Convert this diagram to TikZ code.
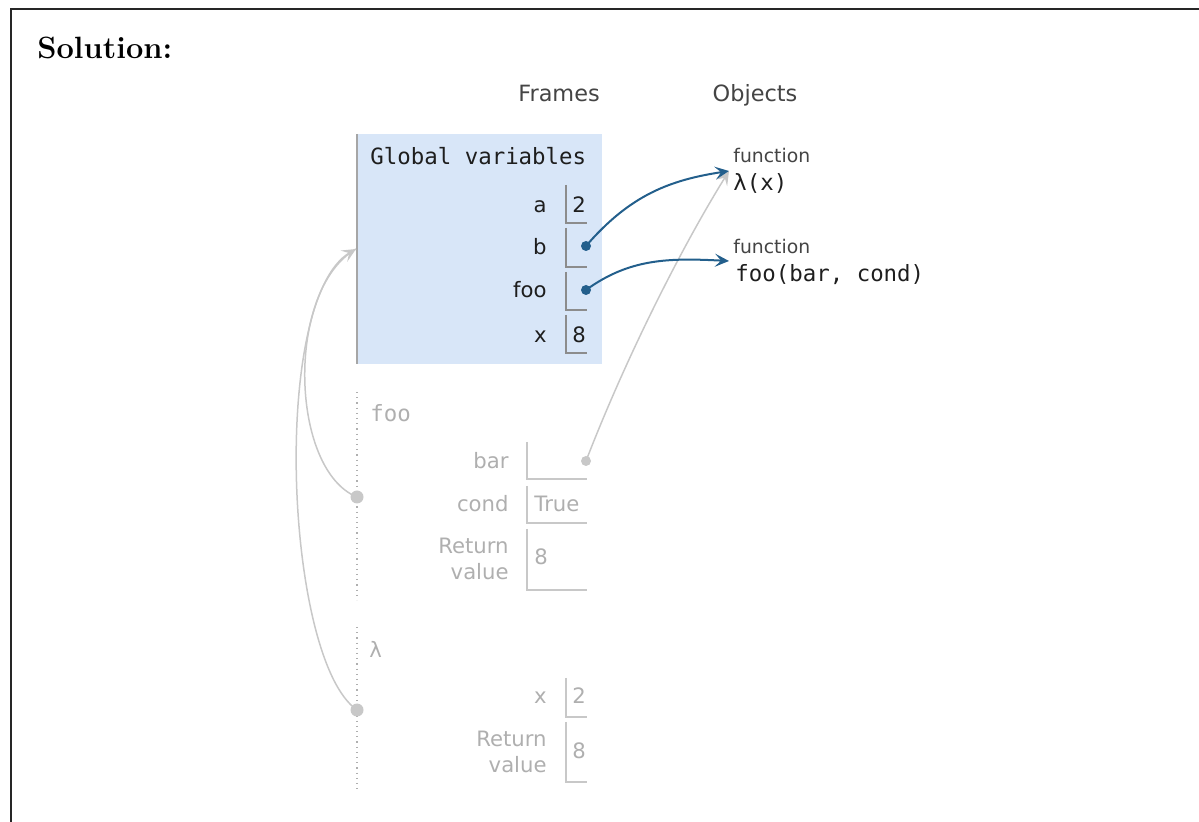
\documentclass[tikz,border=0pt]{standalone}
\usepackage{fontspec}
\setsansfont{DejaVu Sans}
\setmonofont{DejaVu Sans Mono}
\usetikzlibrary{arrows.meta}
\definecolor{gframe}{RGB}{216,230,248}
\definecolor{ptr}{RGB}{35,95,140}
\definecolor{inact}{RGB}{175,175,175}
\definecolor{inline}{RGB}{200,200,200}
\definecolor{hdr}{RGB}{68,68,68}
\definecolor{txt}{RGB}{30,30,30}
\begin{document}
\begin{tikzpicture}[x=0.5pt,y=-0.5pt,
  lbl/.style={font=\sffamily\fontsize{10.6}{12}\selectfont, anchor=base east, inner sep=0pt, text=txt},
  val/.style={font=\sffamily\fontsize{10.6}{12}\selectfont, anchor=base west, inner sep=0pt, text=txt},
  mono/.style={font=\ttfamily\fontsize{11.2}{13}\selectfont, anchor=base west, inner sep=0pt, text=txt},
  small/.style={font=\sffamily\fontsize{9.4}{11}\selectfont, anchor=base west, inner sep=0pt, text=hdr},
  head/.style={font=\sffamily\fontsize{11.2}{13}\selectfont, anchor=base, inner sep=0pt, text=hdr},
  cell/.style={line width=0.7pt, draw=black!45},
  icell/.style={line width=0.7pt, draw=inline},
  dot/.style={circle, fill=ptr, inner sep=0pt, minimum size=5pt},
  idot/.style={circle, fill=inline, inner sep=0pt, minimum size=5pt},
  bigdot/.style={circle, fill=inline, inner sep=0pt, minimum size=6.5pt},
  ptrarrow/.style={draw=ptr, line width=1pt, -{Stealth[length=7pt,width=6.5pt,inset=3pt]}},
  garrow/.style={draw=inline, line width=0.75pt, -{Stealth[length=7pt,width=6.5pt,inset=3pt]}},
  gline/.style={draw=inline, line width=0.75pt},
  vdots/.style={draw=inact, line width=0.6pt, dotted}
]
\useasboundingbox (0,0) rectangle (1199,822);
\draw[line width=1pt, color=black!85] (11,822) -- (11,9) -- (1199,9);

\node[font=\bfseries\fontsize{15.4}{18}\selectfont, anchor=base west, inner sep=0pt] (sol) at (37,59) {Solution:};

\node[head] (frames) at (559,102) {Frames};
\node[head] (objects) at (755,102) {Objects};

% Global frame
\fill[gframe] (357,134) rectangle (602,364);
\draw[line width=0.8pt, draw=black!35] (357,134) -- (357,364);
\node[mono] (glob) at (370,165) {Global variables};

\node[lbl] (la) at (547,213) {a};
\draw[cell] (566,185) -- (566,223) -- (587,223);
\node[val] (va) at (572,213) {2};

\node[lbl] (lb) at (547,255) {b};
\draw[cell] (566,228) -- (566,267) -- (587,267);
\node[dot] (bdot) at (586,246) {};

\node[lbl] (lfoo) at (547,298) {foo};
\draw[cell] (566,272) -- (566,310) -- (587,310);
\node[dot] (foodot) at (586,290) {};

\node[lbl] (lx) at (547,343) {x};
\draw[cell] (566,315) -- (566,353) -- (587,353);
\node[val] (vx) at (572,343) {8};

% Objects
\node[small] (f1) at (733,163) {function};
\node[mono] (lam) at (733,191) {λ(x)};
\node[small] (f2) at (733,254) {function};
\node[mono] (foofn) at (735,282) {foo(bar, cond)};
\coordinate (lamtip) at (729,171);
\coordinate (footip) at (729,261);

% foo frame
\draw[vdots] (357,392) -- (357,600);
\node[mono, text=inact] (foofr) at (370,422) {foo};
\node[lbl, text=inact] (lbar) at (509,469) {bar};
\draw[icell] (527,442) -- (527,479) -- (587,479);
\node[idot] (bardot) at (586,461) {};
\node[lbl, text=inact] (lcond) at (509,512) {cond};
\draw[icell] (527,486) -- (527,523) -- (587,523);
\node[val, text=inact] (vcond) at (534,512) {True};
\node[lbl, text=inact] (lret1) at (509,554) {Return};
\node[lbl, text=inact] (lval1) at (509,580) {value};
\draw[icell] (527,529) -- (527,590) -- (587,590);
\node[val, text=inact] (vret1) at (534,565) {8};
\node[bigdot] (foolink) at (357,497) {};

% lambda frame
\draw[vdots] (357,627) -- (357,793);
\node[val, text=inact] (lamfr) at (369,658) {λ};
\node[lbl, text=inact] (lxx) at (547,704) {x};
\draw[icell] (566,678) -- (566,717) -- (587,717);
\node[val, text=inact] (vxx) at (572,704) {2};
\node[lbl, text=inact] (lret2) at (547,747) {Return};
\node[lbl, text=inact] (lval2) at (547,772) {value};
\draw[icell] (566,722) -- (566,782) -- (587,782);
\node[val, text=inact] (vret2) at (572,758) {8};
\node[bigdot] (lamlink) at (357,710) {};

% parent links
\coordinate (gtip) at (356,249);
\draw[gline] (foolink.center) .. controls (290,470) and (285,290) .. (gtip);
\draw[garrow] (lamlink.center) .. controls (285,660) and (270,300) .. (gtip);

% pointers
\draw[garrow] (bardot.center) .. controls (625,360) and (680,250) .. (lamtip);
\draw[ptrarrow] (bdot.center) .. controls (630,195) and (670,180) .. (lamtip);
\draw[ptrarrow] (foodot.center) .. controls (630,258) and (670,258) .. (footip);
\end{tikzpicture}
\end{document}
